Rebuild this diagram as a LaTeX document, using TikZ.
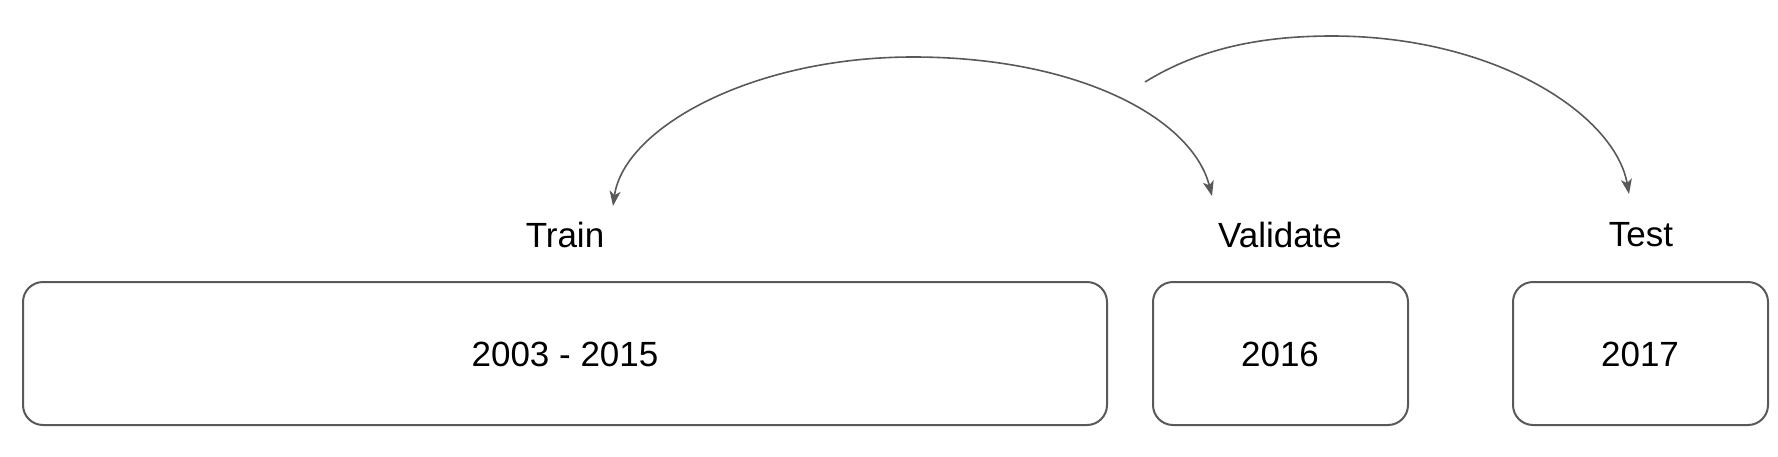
\documentclass[tikz,border=0pt]{standalone}
\usepackage{fontspec}
\setmainfont{Liberation Sans}
\usetikzlibrary{arrows.meta}
\definecolor{edge}{HTML}{595959}
\tikzset{
  yearbox/.style={draw=edge, line width=2pt, rounded corners=20pt},
  lbl/.style={font=\fontsize{35}{42}\selectfont, inner sep=0pt},
  conn/.style={draw=edge, line width=1.6pt, -{Stealth[length=15pt,width=11pt,inset=4pt]}},
}
\begin{document}
\begin{tikzpicture}[x=1pt,y=-1pt]
\useasboundingbox (0,0) rectangle (1778,456);
% boxes
\draw[yearbox] (23,282) rectangle (1107,425);
\draw[yearbox] (1153,282) rectangle (1408,425);
\draw[yearbox] (1513,282) rectangle (1768,425);
\node[lbl] (y1) at (565,354) {2003 - 2015};
\node[lbl] (y2) at (1280,354) {2016};
\node[lbl] (y3) at (1640,354) {2017};
% labels
\node[lbl] (train) at (565,235) {Train};
\node[lbl] (val) at (1280,235) {Validate};
\node[lbl] (test) at (1641,235) {Test};
% arrow endpoints
\coordinate (a1) at (613,206);
\coordinate (p1) at (913,57);
\coordinate (a2) at (1212,196);
\coordinate (s2) at (1145,82);
\coordinate (p2) at (1332,36);
\coordinate (a3) at (1629,194);
\draw[conn, {Stealth[length=15pt,width=11pt,inset=4pt]}-{Stealth[length=15pt,width=11pt,inset=4pt]}]
  (a1) .. controls (624,128) and (752,57) .. (p1)
       .. controls (1078,57) and (1192,118) .. (a2);
\draw[conn] (s2) .. controls (1200,48) and (1262,36) .. (p2)
       .. controls (1496,36) and (1615,115) .. (a3);
\end{tikzpicture}
\end{document}
